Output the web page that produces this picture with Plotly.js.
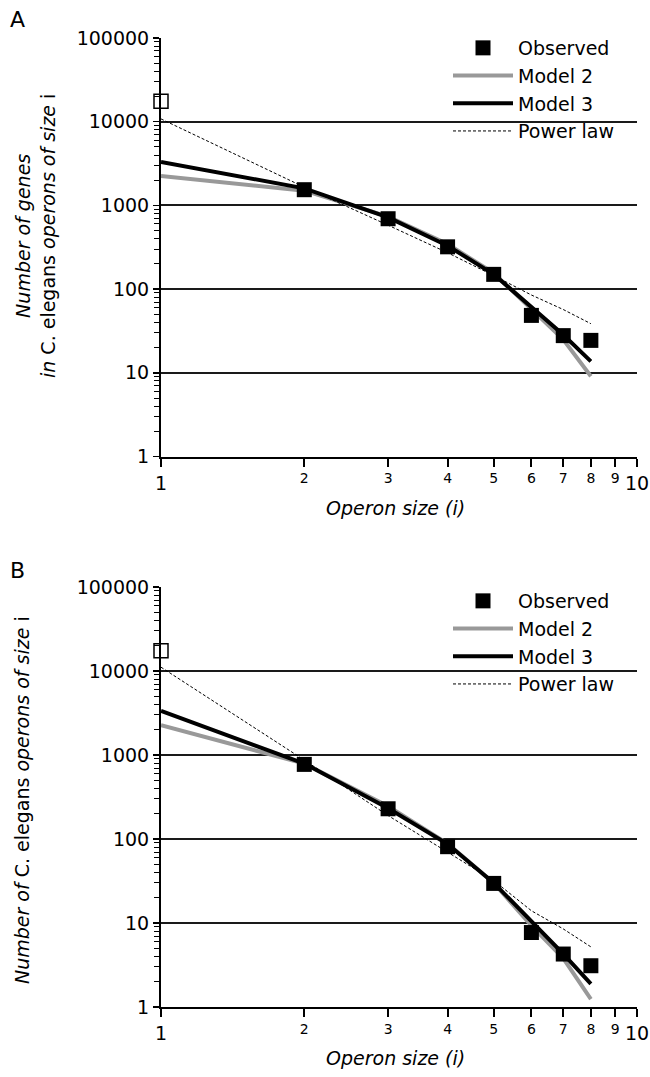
<!DOCTYPE html>
<html>
<head>
<meta charset="utf-8">
<script src="https://cdn.plot.ly/plotly-3.0.1.min.js"></script>
<style>html,body{margin:0;padding:0;background:#fff;}#chart{width:650px;height:1077px;}</style>
</head>
<body>
<div id="chart"></div>
<script>
// ---------- data ----------
const operonSize = [1, 2, 3, 4, 5, 6, 7, 8];
const observedSize = [2, 3, 4, 5, 6, 7, 8];
const firstSize = [1];

// Panel A: number of genes in operons of size i
const observedA = [1540, 693, 320, 150, 48.5, 27.8, 24.4];
const observedA1 = [17600];            // open square at i = 1
const model2A = [2250, 1500, 735, 345, 155, 57, 25, 9.1];
const model3A = [3300, 1600, 720, 330, 150, 60, 28.5, 13.7];
const powerA = [10800, 1650, 580, 272, 145, 85, 57, 38.6];

// Panel B: number of operons of size i
const observedB = [773, 229, 81, 29.6, 7.7, 4.27, 3.1];
const observedB1 = [17400];            // open square at i = 1
const model2B = [2270, 790, 245, 88, 30, 9.3, 3.8, 1.24];
const model3B = [3350, 790, 232, 87, 30, 10.3, 4.3, 1.88];
const powerB = [11100, 870, 190, 70, 32, 14, 8.5, 5.2];

const yTickVals = [1, 10, 100, 1000, 10000, 100000];
const yTickText = ['1', '10', '100', '1000', '10000', '100000'];
const xTickVals = [1, 2, 3, 4, 5, 6, 7, 8, 9, 10];
const xTickText = ['', '2', '3', '4', '5', '6', '7', '8', '9', ''];
const xEndLabels = ['1', '10'];
const legendNames = ['Observed', 'Model 2', 'Model 3', 'Power law'];

// ---------- layout helpers ----------
const W = 650, H = 1077;
const ML = 161, MR = 13, MT = 38, MB = 70;
const PW = W - ML - MR, PH = H - MT - MB;
const fx = px => (px - ML) / PW;
const fy = py => (H - MB - py) / PH;
const domA = [fy(456.5), 1];
const domB = [0, fy(587)];

const minorVals = [];
for (let k = 0; k < 5; k++) for (let m = 2; m <= 9; m++) minorVals.push(m * Math.pow(10, k));

const FONT = 'DejaVu Sans, Arial, sans-serif';
const obsMarker = {symbol: 'square', size: 15, color: '#000000'};

function traces(xa, ya, leg, obs, obs1, m2, m3, pw) {
  return [
    // legend entry for the observed squares (the squares themselves are drawn last, on top)
    {x: [null], y: [null], xaxis: xa, yaxis: ya, legend: leg, name: legendNames[0],
     mode: 'markers', marker: obsMarker},
    {x: operonSize, y: m2, xaxis: xa, yaxis: ya, legend: leg, name: legendNames[1],
     mode: 'lines', line: {color: '#999999', width: 4}, cliponaxis: false},
    {x: operonSize, y: m3, xaxis: xa, yaxis: ya, legend: leg, name: legendNames[2],
     mode: 'lines', line: {color: '#000000', width: 4}, cliponaxis: false},
    {x: operonSize, y: pw, xaxis: xa, yaxis: ya, legend: leg, name: legendNames[3],
     mode: 'lines', line: {color: '#000000', width: 1, dash: '3px,2px'}, cliponaxis: false},
    {x: observedSize, y: obs, xaxis: xa, yaxis: ya, legend: leg, name: legendNames[0], showlegend: false,
     mode: 'markers', marker: obsMarker, cliponaxis: false},
    {x: firstSize, y: obs1, xaxis: xa, yaxis: ya, legend: leg, name: legendNames[0] + ' (i = 1)', showlegend: false,
     mode: 'markers', marker: {symbol: 'square', size: 14, color: '#ffffff', line: {color: '#000000', width: 1.5}},
     cliponaxis: false}
  ];
}

const data = [].concat(
  traces('x', 'y', 'legend', observedA, observedA1, model2A, model3A, powerA),
  traces('x2', 'y2', 'legend2', observedB, observedB1, model2B, model3B, powerB)
);

function yAxis(dom, anchor) {
  return {
    type: 'log', range: [0, 5], domain: dom, anchor: anchor,
    tickmode: 'array', tickvals: yTickVals, ticktext: yTickText,
    ticks: 'outside', ticklen: 6, tickwidth: 1.5, tickcolor: '#000',
    showline: true, linecolor: '#000', linewidth: 2,
    showgrid: true, gridcolor: '#1a1a1a', gridwidth: 2, zeroline: false,
    tickfont: {family: FONT, size: 19, color: '#000'},
    minor: {tickmode: 'array', tickvals: minorVals, ticks: 'outside', ticklen: 5, tickwidth: 1, tickcolor: '#000', showgrid: false},
    fixedrange: true
  };
}
function xAxis(anchor) {
  return {
    type: 'log', range: [0, 1], domain: [0, 1], anchor: anchor,
    tickmode: 'array', tickvals: xTickVals, ticktext: xTickText,
    ticks: 'outside', ticklen: 8, tickwidth: 2, tickcolor: '#000',
    showline: true, linecolor: '#000', linewidth: 2,
    showgrid: false, zeroline: false,
    tickfont: {family: FONT, size: 14, color: '#000'},
    fixedrange: true
  };
}

const ann = [];
function panelAnn(dom, xa, letter, letterY, yTitle, yTitleX, yTitleY, xTitleY) {
  ann.push({text: letter, xref: 'paper', yref: 'paper', x: fx(8), y: fy(letterY),
            xanchor: 'left', yanchor: 'middle', showarrow: false,
            font: {family: FONT, size: 22, color: '#000'}});
  ann.push({text: yTitle, xref: 'paper', yref: 'paper', x: fx(yTitleX), y: fy(yTitleY),
            xanchor: 'center', yanchor: 'middle', textangle: -90, showarrow: false,
            font: {family: FONT, size: 19, color: '#000'}});
  ann.push({text: '<i>Operon size (i)</i>', xref: 'paper', yref: 'paper', x: fx(395), y: fy(xTitleY),
            xanchor: 'center', yanchor: 'middle', showarrow: false,
            font: {family: FONT, size: 19, color: '#000'}});
  [0, 1].forEach((lv, i) => {
    ann.push({text: xEndLabels[i], xref: xa, yref: 'paper', x: lv, y: dom[0],
              xanchor: 'center', yanchor: 'top', yshift: -13, showarrow: false,
              font: {family: FONT, size: 19, color: '#000'}});
  });
}
panelAnn(domA, 'x', 'A', 19, '<i>Number of genes</i><br><i>in</i> C. elegans <i>operons of size</i> i', 35, 236, 508);
panelAnn(domB, 'x2', 'B', 570, '<i>Number of</i> C. elegans <i>operons of size</i> i', 22, 800, 1058);

function legendAt(topPx) {
  return {
    x: fx(448), y: fy(topPx), xanchor: 'left', yanchor: 'top',
    bgcolor: 'rgba(0,0,0,0)', borderwidth: 0, itemwidth: 60,
    font: {family: FONT, size: 19, color: '#000'}, traceorder: 'normal',
    itemclick: false, itemdoubleclick: false
  };
}

const layout = {
  width: W, height: H,
  margin: {l: ML, r: MR, t: MT, b: MB, pad: 0},
  paper_bgcolor: '#ffffff', plot_bgcolor: '#ffffff',
  showlegend: true,
  xaxis: xAxis('y'), yaxis: yAxis(domA, 'x'),
  xaxis2: xAxis('y2'), yaxis2: yAxis(domB, 'x2'),
  legend: legendAt(29), legend2: legendAt(582),
  annotations: ann
};

Plotly.newPlot('chart', data, layout, {displayModeBar: false, staticPlot: true});
</script>
</body>
</html>
